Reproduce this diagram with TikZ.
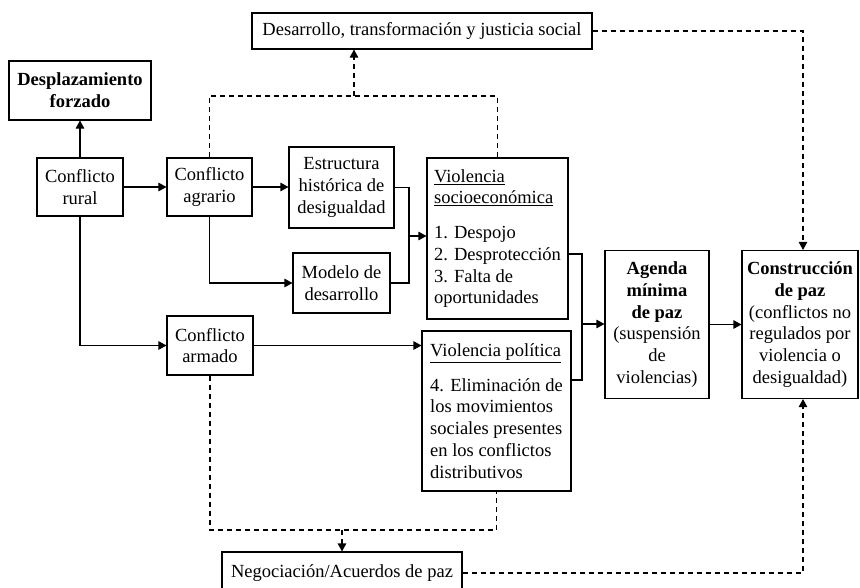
\documentclass[tikz,border=0pt]{standalone}
\usepackage{fontspec}
\setmainfont{Liberation Serif}
\usetikzlibrary{arrows.meta}
\newcommand\fsz{\fontsize{18.5pt}{21.7pt}\selectfont}
\begin{document}
\begin{tikzpicture}[x=1pt,y=-1pt,
  box/.style={draw, line width=1.1pt, align=center, inner sep=3pt, font=\fsz},
  conn/.style={line width=1.1pt, -{Triangle[length=8pt,width=8.5pt]}},
  plain/.style={line width=1.1pt},
  dconn/.style={line width=1.1pt, dash pattern=on 5pt off 4pt, -{Triangle[length=8pt,width=8.5pt]}},
  dplain/.style={line width=1.1pt, dash pattern=on 5pt off 4pt}]
\useasboundingbox (0,0) rectangle (860,587);

\node[box, minimum width=340pt, minimum height=36pt] (des) at (422,31) {Desarrollo, transformación y justicia social};
\node[box, minimum width=142pt, minimum height=59pt, font=\fsz\bfseries] (dpl) at (80,90.5) {Desplazamiento\\forzado};
\node[box, minimum width=86pt, minimum height=58pt] (rur) at (80,187) {Conflicto\\rural};
\node[box, minimum width=85pt, minimum height=58pt] (agr) at (209.5,187) {Conflicto\\agrario};
\node[box, minimum width=105pt, minimum height=81pt] (est) at (341.5,187.5) {Estructura\\histórica de\\desigualdad};
\node[box, minimum width=97pt, minimum height=60pt] (mod) at (341.5,283) {Modelo de\\desarrollo};
\node[box, align=left, minimum width=141pt, minimum height=161pt] (vse) at (497.5,238.5)
  {\underline{Violencia}\\\underline{socioeconómica}\\[13pt]1. Despojo\\2. Desprotección\\3. Falta de\\oportunidades};
\node[box, minimum width=86pt, minimum height=59pt] (arm) at (210,345.5) {Conflicto\\armado};
\node[box, align=left, minimum width=149pt, minimum height=160pt] (vpo) at (496.5,411)
  {\underline{Violencia política}\\[13pt]4. Eliminación de\\los movimientos\\sociales presentes\\en los conflictos\\distributivos};
\node[box, minimum width=104pt, minimum height=148pt] (age) at (657,324.5)
  {\textbf{Agenda}\\\textbf{mínima}\\\textbf{de paz}\\(suspensión\\de\\violencias)};
\node[box, minimum width=116pt, minimum height=148pt, inner sep=1pt] (con) at (800,324.5)
  {\textbf{Construcción}\\\textbf{de paz}\\(conflictos no\\regulados por\\violencia o\\desigualdad)};
\node[box, minimum width=240pt, minimum height=42pt] (neg) at (342,573) {Negociación/Acuerdos de paz};

\coordinate (j1) at (409,236);
\coordinate (j2) at (582,324);
\coordinate (t1) at (354,96);
\coordinate (b1) at (342,530);

\draw[conn] (rur.north) -- (dpl.south);
\draw[conn] (rur.east) -- (agr.west);
\draw[conn] (agr.east) -- (agr.east -| est.west);
\draw[conn] (agr.south) |- (mod.west);
\draw[plain] (est.east) -| (j1);
\draw[plain] (mod.east) -| (j1);
\draw[conn] (j1) -- (j1 -| vse.west);
\draw[conn] (rur.south) |- (arm.west);
\draw[conn] (arm.east) -- (arm.east -| vpo.west);
\draw[plain] ([yshift=-15.5pt]vse.east) -| (j2);
\draw[plain] ([yshift=31pt]vpo.east) -| (j2);
\draw[conn] (j2) -- (j2 -| age.west);
\draw[conn] (age.east) -- (con.west);

\draw[dplain] (agr.north) |- (vse.north |- t1) -- (vse.north);
\draw[dconn] (t1) -- (t1 |- des.south);
\draw[dconn] (des.east) -| ([xshift=3pt]con.north);
\draw[dplain] (arm.south) |- (vpo.south |- b1) -- (vpo.south);
\draw[dconn] (b1) -- (neg.north);
\draw[dconn] (neg.east) -| ([xshift=3pt]con.south);
\end{tikzpicture}
\end{document}
